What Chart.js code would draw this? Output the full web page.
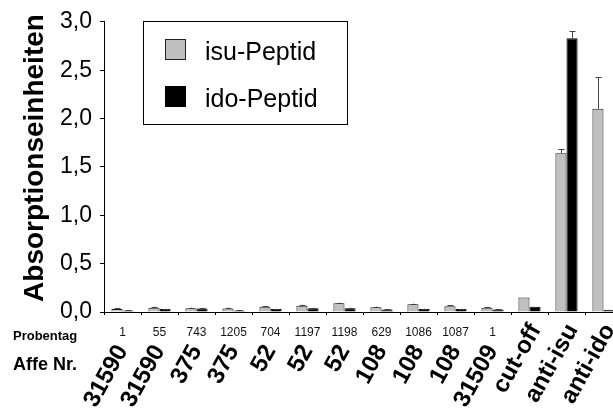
<!DOCTYPE html>
<html>
<head>
<meta charset="utf-8">
<script src="https://cdn.jsdelivr.net/npm/chart.js@4/dist/chart.umd.min.js"></script>
<style>
  html, body { margin: 0; padding: 0; background: #fff; overflow: hidden; }
  #wrap { width: 622px; height: 411px; }
</style>
</head>
<body>
<div id="wrap"><canvas id="c" width="622" height="411"></canvas></div>
<script>
// Sample day of each serum sample (controls have none)
const probentag = ['1', '55', '743', '1205', '704', '1197', '1198', '629', '1086', '1087', '1', '', '', ''];
// Monkey number / control
const affeNr = ['31590', '31590', '375', '375', '52', '52', '52', '108', '108', '108', '31509', 'cut-off', 'anti-isu', 'anti-ido'];

// Absorption units per peptide
const isuWerte = [0.03, 0.045, 0.04, 0.035, 0.055, 0.065, 0.09, 0.05, 0.08, 0.06, 0.045, 0.15, 1.64, 2.10];
const idoWerte = [0.015, 0.03, 0.035, 0.015, 0.03, 0.04, 0.04, 0.025, 0.03, 0.03, 0.025, 0.055, 2.83, 0.02];
// Standard deviation (upper half drawn)
const isuFehler = [0.008, 0.01, 0.006, 0.01, 0.008, 0.01, 0.006, 0.006, 0.006, 0.008, 0.008, 0.0, 0.045, 0.33];
const idoFehler = [0.004, 0.004, 0.004, 0.004, 0.004, 0.004, 0.004, 0.004, 0.004, 0.004, 0.004, 0.0, 0.07, 0.004];

const yTicks = [0, 0.5, 1.0, 1.5, 2.0, 2.5, 3.0];

const FONT = "'Liberation Sans', Arial, Helvetica, sans-serif";

// upward error whiskers with a short cap
const errorBars = {
  id: 'errorBars',
  afterDatasetsDraw(chart) {
    const ctx = chart.ctx;
    const y = chart.scales.y;
    chart.data.datasets.forEach((ds, di) => {
      const meta = chart.getDatasetMeta(di);
      meta.data.forEach((bar, i) => {
        const err = ds.errors[i];
        if (!err) return;
        const top = y.getPixelForValue(ds.data[i] + err);
        const cx = Math.round(bar.x) + 0.5;
        ctx.save();
        ctx.strokeStyle = '#444';
        ctx.lineWidth = 1;
        ctx.beginPath();
        ctx.moveTo(cx, bar.y);
        ctx.lineTo(cx, top);
        ctx.moveTo(cx - 3, Math.round(top) + 0.5);
        ctx.lineTo(cx + 3, Math.round(top) + 0.5);
        ctx.stroke();
        ctx.restore();
      });
    });
  }
};

// framed legend inside the plot
const boxLegend = {
  id: 'boxLegend',
  afterDraw(chart) {
    const ctx = chart.ctx;
    ctx.save();
    ctx.strokeStyle = '#000';
    ctx.lineWidth = 1;
    ctx.strokeRect(143.5, 21.5, 204, 103);
    ctx.font = '25px ' + FONT;
    ctx.textBaseline = 'alphabetic';
    ctx.textAlign = 'left';
    chart.data.datasets.forEach((ds, i) => {
      const sy = 39 + i * 47;
      ctx.fillStyle = ds.backgroundColor;
      ctx.fillRect(165, sy, 21, 21);
      ctx.strokeStyle = ds.borderColor;
      ctx.strokeRect(165.5, sy + 0.5, 20, 20);
      ctx.fillStyle = '#000';
      ctx.fillText(ds.label, 205, sy + 21);
    });
    ctx.restore();
  }
};

// y title, row captions and the slanted monkey numbers under the x axis
const axisTexts = {
  id: 'axisTexts',
  afterDraw(chart) {
    const ctx = chart.ctx;
    const xs = chart.scales.x;
    ctx.save();
    ctx.fillStyle = '#000';

    ctx.save();
    ctx.translate(35, 158);
    ctx.rotate(-Math.PI / 2);
    ctx.textAlign = 'center';
    ctx.textBaseline = 'middle';
    ctx.font = 'bold 28px ' + FONT;
    ctx.fillText('Absorptionseinheiten', 0, 0);
    ctx.restore();

    ctx.textAlign = 'left';
    ctx.textBaseline = 'alphabetic';
    ctx.font = 'bold 13px ' + FONT;
    ctx.fillText('Probentag', 13, 340);
    ctx.font = 'bold 18px ' + FONT;
    ctx.fillText('Affe Nr.', 13, 370);

    const angle = 61 * Math.PI / 180;
    ctx.font = 'bold 24px ' + FONT;
    ctx.textAlign = 'right';
    ctx.textBaseline = 'middle';
    affeNr.forEach((lbl, i) => {
      const kontrolle = probentag[i] === '';
      const x = xs.getPixelForValue(i) + (kontrolle ? 6 : 0);
      const y = kontrolle ? 326 : 347;
      ctx.save();
      ctx.translate(x, y);
      ctx.rotate(-angle);
      ctx.fillText(lbl, 0, 0);
      ctx.restore();
    });
    ctx.restore();
  }
};

new Chart(document.getElementById('c'), {
  type: 'bar',
  data: {
    labels: affeNr,
    datasets: [
      { label: 'isu-Peptid', data: isuWerte, errors: isuFehler,
        backgroundColor: '#c0c0c0', borderColor: '#222', borderWidth: 1 },
      { label: 'ido-Peptid', data: idoWerte, errors: idoFehler,
        backgroundColor: '#000000', borderColor: '#000', borderWidth: 1 }
    ]
  },
  options: {
    responsive: false,
    animation: false,
    events: [],
    layout: { padding: { top: 21, right: 0, bottom: 75, left: 0 } },
    datasets: { bar: { categoryPercentage: 0.6, barPercentage: 1.0, borderSkipped: 'bottom' } },
    plugins: { legend: { display: false }, tooltip: { enabled: false } },
    scales: {
      y: {
        min: 0, max: 3,
        afterBuildTicks(scale) { scale.ticks = yTicks.map(v => ({ value: v })); },
        afterFit(scale) { scale.width = 104; },
        border: { display: true, color: '#000', width: 1 },
        grid: { display: true, drawOnChartArea: false, drawTicks: true, tickLength: 4, color: '#000' },
        ticks: {
          color: '#000', padding: 8,
          font: { family: FONT, size: 23 },
          callback: v => v.toFixed(1).replace('.', ',')
        }
      },
      x: {
        afterFit(scale) { scale.height = 24; scale.paddingLeft = 0; scale.paddingRight = 0; },
        border: { display: true, color: '#000', width: 1 },
        grid: { display: true, offset: true, drawOnChartArea: false, drawTicks: true, tickLength: 3, color: '#000' },
        ticks: {
          color: '#111', padding: 10, maxRotation: 0, minRotation: 0, autoSkip: false,
          font: { family: FONT, size: 12 },
          callback: (v, i) => probentag[i]
        }
      }
    }
  },
  plugins: [errorBars, boxLegend, axisTexts]
});
</script>
</body>
</html>
